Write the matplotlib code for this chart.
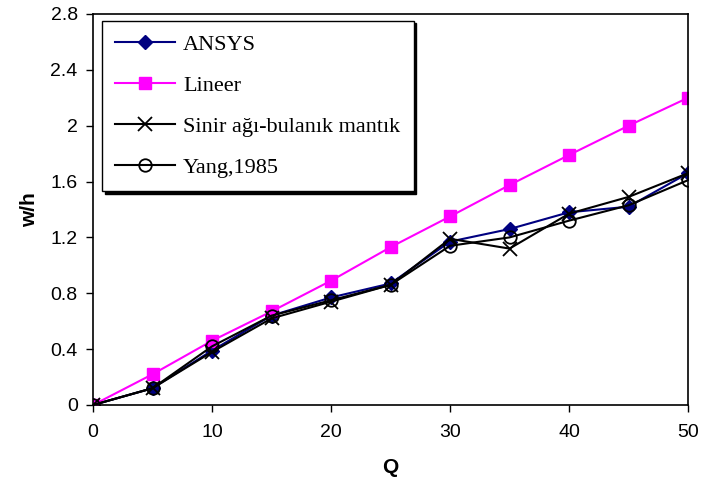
import numpy as np
import matplotlib.pyplot as plt
from matplotlib.ticker import FuncFormatter

q = [0, 5, 10, 15, 20, 25, 30, 35, 40, 45, 50]
ansys = [0, 0.12, 0.39, 0.64, 0.77, 0.87, 1.17, 1.26, 1.38, 1.42, 1.66]
lineer = [0, 0.22, 0.46, 0.67, 0.89, 1.13, 1.35, 1.575, 1.79, 2.0, 2.2]
sinir = [0, 0.12, 0.38, 0.62, 0.74, 0.86, 1.19, 1.12, 1.37, 1.49, 1.66]
yang = [0, 0.12, 0.42, 0.64, 0.75, 0.86, 1.14, 1.20, 1.32, 1.43, 1.61]
labels = ['ANSYS', 'Lineer', 'Sinir ağı-bulanık mantık', 'Yang,1985']

plt.rcParams['font.family'] = ['Liberation Sans', 'DejaVu Sans']

fig = plt.figure(figsize=(7.01, 4.86), dpi=100)
ax = fig.add_axes([0.1327, 0.1667, 0.8488, 0.8045])

ax.plot(q, ansys, color='#000080', lw=1.5, marker='D', ms=7,
        mfc='#000080', mec='#000080', label=labels[0])
ax.plot(q, lineer, color='#FF00FF', lw=1.5, marker='s', ms=9,
        mfc='#FF00FF', mec='#FF00FF', label=labels[1])
ax.plot(q, sinir, color='black', lw=1.5, marker='x', ms=10, mew=1.3,
        label=labels[2])
ax.plot(q, yang, color='black', lw=1.5, marker='o', ms=9, mfc='none',
        mec='black', mew=1.3, label=labels[3])

ax.set_xlim(0, 50)
ax.set_ylim(0, 2.8)
ax.set_xticks(np.arange(0, 51, 10))
ax.set_yticks(np.arange(0, 2.81, 0.4))
ax.yaxis.set_major_formatter(FuncFormatter(lambda v, p: f'{v:g}'))
ax.tick_params(axis='both', labelsize=14, direction='out', length=5,
               width=1)
ax.tick_params(axis='x', pad=9)
ax.tick_params(axis='y', pad=6)
for s in ax.spines.values():
    s.set_linewidth(1.2)

ax.set_xlabel('Q', fontsize=15, fontweight='bold', labelpad=12)
ax.set_ylabel('w/h', fontsize=15, fontweight='bold', labelpad=8)

leg = ax.legend(loc='upper left', bbox_to_anchor=(0.015, 0.983),
                frameon=True, fancybox=False, edgecolor='black',
                shadow={'color': 'black', 'alpha': 1},
                prop={'family': 'Liberation Serif', 'size': 16},
                handlelength=2.7, labelspacing=0.92, borderpad=0.6,
                handletextpad=0.35, borderaxespad=0)
leg.get_frame().set_linewidth(1)

fig.savefig('out.png', dpi=100)
